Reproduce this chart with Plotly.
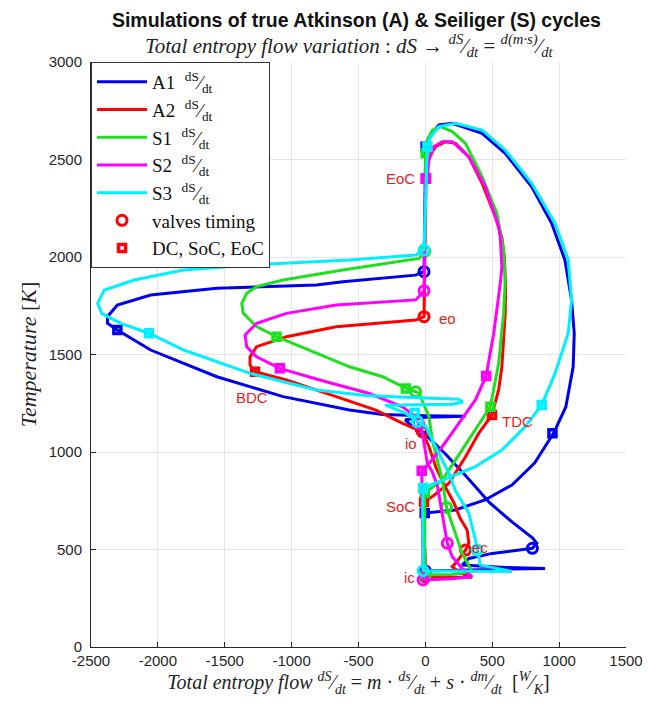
import plotly.graph_objects as go

# ---------------- data ----------------
# A1 (blue)
A1_x = [0, -5, -10, -5, 223, 446, 647, 818, 915, 959, 1050, 1105, 1113, 1093, 1043, 944, 795, 597, 424, 201, 102, 27, 2,
        0, -5, -10, -10, -74, -617, -815, -1559, -2054, -2303, -2377, -2377, -2303,
        -2054, -1559, -1063, -567, -320, 0, 300, 0, -150, -100, -30,
        150, 300, 480, 650, 800, 833, 800, 500, 325, 275, 600, 895, 500, 0, 0]
A1_T = [390, 500, 600, 687, 703, 754, 831, 944, 1046, 1097, 1231, 1437, 1609, 1779, 1985, 2173, 2360, 2532, 2634, 2686, 2677, 2617, 2565,
        2400, 2200, 2000, 1925, 1907, 1873, 1856, 1840, 1805, 1754, 1694, 1660, 1626,
        1523, 1386, 1284, 1215, 1192, 1186, 1183, 1178, 1165, 1130, 1110,
        990, 880, 740, 640, 560, 532, 506, 480, 454, 420, 408, 403, 398, 392, 390]

# A2 (red)
A2_x = [0, -5, -10, -10, 60, 176, 300, 399, 473, 498, 548, 572, 597, 600, 590, 572, 523, 424, 325, 225, 151, 77, 27, 15, 5,
        0, -5, -10, -10, -72, -667, -1039, -1262, -1311, -1311, -1274,
        -1039, -667, -370, -171, -47, -22, 27, 80, 150, 213, 260, 312, 325, 300, 225, 201, 260, 349, 200, 0]
A2_T = [360, 450, 600, 745, 775, 840, 976, 1096, 1164, 1190, 1320, 1437, 1711, 1850, 2000, 2100, 2207, 2378, 2514, 2583, 2591, 2566, 2514, 2446, 2403,
        2200, 2000, 1800, 1694, 1677, 1642, 1591, 1540, 1488, 1446, 1412,
        1369, 1284, 1215, 1147, 1113, 1103, 1027, 920, 820, 740, 660, 600, 532, 497, 429, 412, 380, 358, 358, 360]

# S1 (green)
S1_x = [0, -5, -5, -5, 126, 225, 325, 424, 486, 548, 585, 597, 585, 535, 424, 300, 201, 114, 52, 15, 2,
        0, -5, -5, -47, -617, -1063, -1262, -1336, -1373, -1361, -1262, -1113,
        -816, -567, -320, -171, -72, -47, 27, 52, 77, 126, 158, 213, 275, 349, 200, 0]
S1_T = [370, 500, 700, 790, 856, 959, 1061, 1164, 1232, 1455, 1711, 1882, 2036, 2224, 2412, 2583, 2643, 2669, 2651, 2600, 2532,
        2300, 2100, 2030, 1993, 1933, 1882, 1848, 1814, 1762, 1711, 1643, 1591,
        1506, 1437, 1386, 1335, 1309, 1300, 1181, 1060, 993, 856, 716, 600, 480, 387, 372, 370]

# S2 (magenta)
S2_x = [-17, -20, -25, -27, 27, 126, 250, 374, 454, 511, 560, 572, 560, 548, 448, 325, 201, 126, 65, 27, 15, 2,
        -5, -10, -10, -72, -667, -1039, -1262, -1348, -1336, -1262, -1088,
        -790, -419, -171, -72, -52, -22, 15, 50, 89, 126, 164, 201, 275, 349, 200, -17]
S2_T = [344, 500, 700, 904, 941, 1027, 1147, 1267, 1390, 1609, 1865, 1950, 2100, 2155, 2361, 2514, 2591, 2591, 2566, 2497, 2412, 2403,
        2100, 1900, 1827, 1780, 1754, 1711, 1660, 1600, 1540, 1488, 1429,
        1369, 1300, 1232, 1181, 1147, 1096, 941, 900, 830, 686, 532, 463, 403, 361, 350, 344]

# S3 (cyan)
S3_x = [-17, -20, -20, -17, 126, 374, 572, 746, 870, 969, 1068, 1093, 1068, 969, 795, 597, 424, 225, 102, 40, 15,
        0, -10, -10, -72, -567, -1311, -1807, -2178, -2400, -2450, -2420, -2277, -2067,
        -1807, -1311, -816, -443, -200, 250, 280, 200, -300, -150, -59,
        2, 77, 176, 226, 325, 374, 387, 411, 647, 400, -17]
S3_T = [391, 500, 700, 815, 856, 925, 1010, 1130, 1241, 1403, 1609, 1779, 1985, 2173, 2378, 2549, 2651, 2686, 2669, 2617, 2566,
        2300, 2100, 2036, 2010, 1985, 1959, 1933, 1882, 1831, 1762, 1711, 1660, 1609,
        1523, 1403, 1318, 1290, 1282, 1270, 1255, 1245, 1240, 1200, 1156,
        1130, 1027, 890, 800, 686, 549, 497, 420, 387, 388, 391]

# valve timing points (eo, io, ec, ic)
A1_vx = [-10, -30, 800, 0];      A1_vT = [1925, 1115, 506, 390]
A2_vx = [-10, -22, 300, 0];      A2_vT = [1694, 1103, 497, 360]
S1_vx = [-5, -72, 158, 0];       S1_vT = [2030, 1309, 716, 370]
S2_vx = [-10, -52, 164, -17];    S2_vT = [1827, 1147, 532, 344]
S3_vx = [-10, -59, 387, -17];    S3_vT = [2036, 1156, 497, 391]

# DC, SoC, EoC points (SoC, TDC, EoC, BDC)
A1_sx = [-5, 950, 2, -2303];     A1_sT = [687, 1096, 2565, 1626]
A2_sx = [-10, 498, 5, -1274];    A2_sT = [745, 1190, 2403, 1412]
S1_sx = [-5, 486, 2, -1113, -146];  S1_sT = [790, 1232, 2532, 1591, 1326]
S2_sx = [-27, 454, 2, -1088];    S2_sT = [904, 1390, 2403, 1429]
S3_sx = [-17, 870, 15, -2067, -80];  S3_sT = [815, 1241, 2566, 1609, 1200]

names = ["A1", "A2", "S1", "S2", "S3"]
colors = ["#0000f0", "#ff0000", "#1ee01e", "#ff00ff", "#00f0ff"]

# red labels
lab_text = ["EoC", "eo", "BDC", "TDC", "io", "SoC", "ec", "ic"]
lab_x = [-60, 90, -1160, 560, -50, -60, 330, -60]
lab_T = [2403, 1687, 1282, 1159, 1046, 723, 508, 354]
lab_anchor = ["right", "left", "right", "left", "right", "right", "left", "right"]

tick_x = [-2500, -2000, -1500, -1000, -500, 0, 500, 1000, 1500]
tick_T = [0, 500, 1000, 1500, 2000, 2500, 3000]

# ---------------- figure ----------------
frac = "<sup>dS</sup>\u2044<sub>dt</sub>"
series = [(A1_x, A1_T, A1_vx, A1_vT, A1_sx, A1_sT),
          (A2_x, A2_T, A2_vx, A2_vT, A2_sx, A2_sT),
          (S1_x, S1_T, S1_vx, S1_vT, S1_sx, S1_sT),
          (S2_x, S2_T, S2_vx, S2_vT, S2_sx, S2_sT),
          (S3_x, S3_T, S3_vx, S3_vT, S3_sx, S3_sT)]

fig = go.Figure()
for i, (xs, ts, vx, vt, sx, st) in enumerate(series):
    c = colors[i]
    fig.add_trace(go.Scatter(x=xs, y=ts, mode="lines", name=f"{names[i]}  {frac}",
                             line=dict(color=c, width=3), legendrank=i + 1))
    fig.add_trace(go.Scatter(x=vx, y=vt, mode="markers", name="valves timing",
                             marker=dict(symbol="circle-open", size=10, color=c, line=dict(width=3, color=c)),
                             showlegend=(i == 1), legendrank=10))
    fig.add_trace(go.Scatter(x=sx, y=st, mode="markers", name="DC, SoC, EoC",
                             marker=dict(symbol="square-open", size=7, color=c, line=dict(width=3.5, color=c)),
                             showlegend=(i == 1), legendrank=11))

for t, x, y, a in zip(lab_text, lab_x, lab_T, lab_anchor):
    fig.add_annotation(x=x, y=y, text=t, showarrow=False, xanchor=a, yanchor="middle",
                       font=dict(family="Liberation Sans", size=15, color="#e8201f"))

serif = "Liberation Serif"
fig.add_annotation(xref="paper", yref="paper", x=0.5, y=1.0, yshift=17, xshift=-9, yanchor="middle",
                   text="<i>Total entropy flow variation</i> : <i>dS</i> \u2192 "
                        "<i><sup>dS</sup>\u2044<sub>dt</sub></i> = <i><sup>d(m\u00b7s)</sup>\u2044<sub>dt</sub></i>",
                   showarrow=False, font=dict(family=serif, size=21, color="#222"))

fig.update_layout(
    width=654, height=708,
    margin=dict(l=91, r=28, t=62, b=61),
    paper_bgcolor="white", plot_bgcolor="white",
    title=dict(text="<b>Simulations of true Atkinson (A) & Seiliger (S) cycles</b>",
               x=0.545, xanchor="center", y=0.972, yanchor="middle",
               font=dict(family="Liberation Sans", size=19.5, color="#111")),
    showlegend=True,
    legend=dict(x=0.0, y=1.0, xanchor="left", yanchor="top",
                bgcolor="white", bordercolor="#333", borderwidth=1,
                font=dict(family=serif, size=19, color="#111"),
                itemwidth=50, tracegroupgap=0),
    xaxis=dict(range=[-2500, 1500], tickvals=tick_x, ticktext=[str(v) for v in tick_x],
               showgrid=True, gridcolor="#e6e6e6", zeroline=False,
               showline=True, linecolor="#262626", linewidth=1,
               ticks="inside", ticklen=5, tickcolor="#262626",
               tickfont=dict(family="Liberation Sans", size=15, color="#262626"),
               title=dict(text="<i>Total entropy flow</i> <i><sup>dS</sup>\u2044<sub>dt</sub></i> = "
                               "<i>m</i> \u00b7 <i><sup>ds</sup>\u2044<sub>dt</sub></i> + <i>s</i> \u00b7 "
                               "<i><sup>dm</sup>\u2044<sub>dt</sub></i>  [<i><sup>W</sup>\u2044<sub>K</sub></i>]",
                          font=dict(family=serif, size=20, color="#222"), standoff=4)),
    yaxis=dict(range=[0, 3000], tickvals=tick_T, ticktext=[str(v) for v in tick_T],
               showgrid=True, gridcolor="#e6e6e6", zeroline=False,
               showline=True, linecolor="#262626", linewidth=1,
               ticks="inside", ticklen=5, tickcolor="#262626", ticklabelstandoff=5,
               tickfont=dict(family="Liberation Sans", size=15, color="#262626"),
               title=dict(text="<i>Temperature</i> [<i>K</i>]",
                          font=dict(family=serif, size=22, color="#222"), standoff=5)),
)

fig.write_html("out.html")
